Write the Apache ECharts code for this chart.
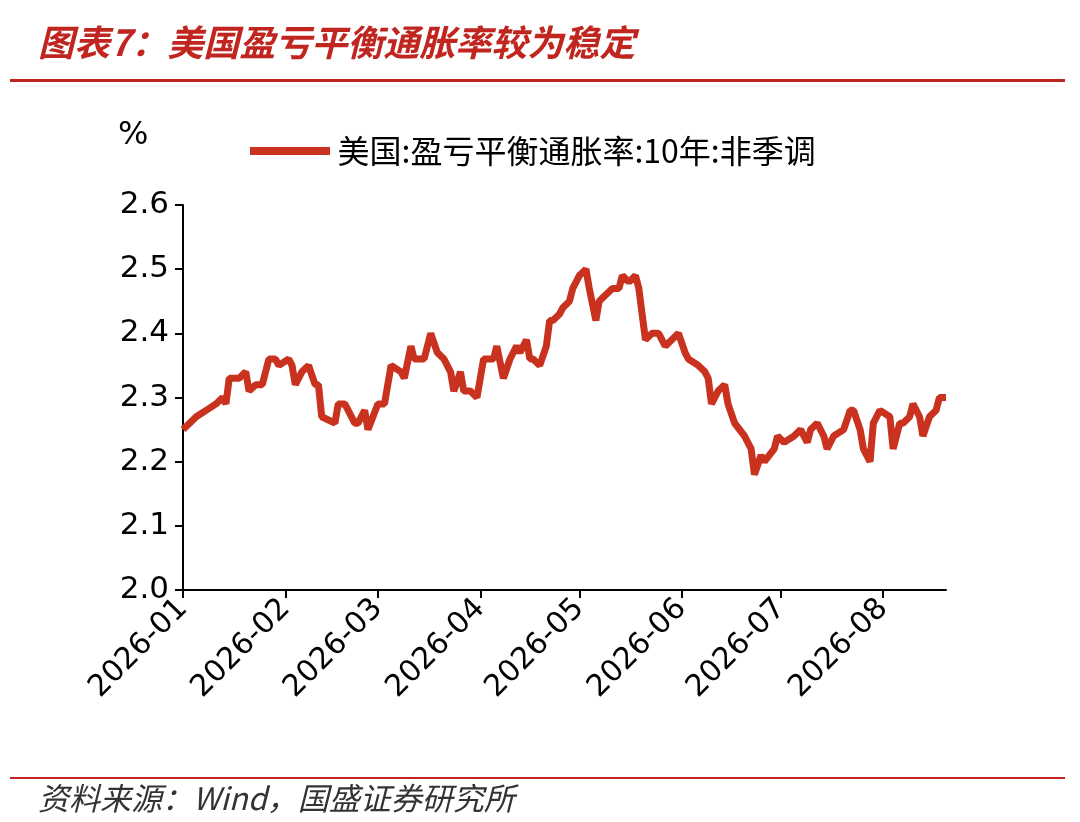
<!DOCTYPE html>
<html><head><meta charset="utf-8">
<script src="https://cdn.jsdelivr.net/npm/echarts@6/dist/echarts.min.js"></script>
<style>html,body{margin:0;background:#fff}#c{width:1080px;height:822px}</style>
</head><body><div id="c"></div>
<script>
var seriesName = '美国:盈亏平衡通胀率:10年:非季调';
var dayOffsets = [0,2,4,7,10,12,13,14,17,19,20,22,24,26,28,29,32,33,34,36,38,40,41,42,46,47,49,52,53,55,56,59,61,63,66,67,69,70,73,75,77,79,81,82,84,85,87,89,91,94,95,97,99,101,102,104,105,106,108,110,111,112,114,115,117,118,120,122,123,125,126,128,130,132,133,135,137,138,140,142,144,146,148,150,152,153,156,158,159,160,162,164,165,167,170,172,173,175,176,179,180,182,185,187,189,190,192,194,195,197,200,202,203,205,206,208,209,211,214,215,217,218,220,221,223,224,226,228,229,231];
var values = [2.25,2.26,2.27,2.28,2.29,2.30,2.29,2.33,2.33,2.34,2.31,2.32,2.32,2.36,2.36,2.35,2.36,2.35,2.32,2.34,2.35,2.32,2.32,2.27,2.26,2.29,2.29,2.26,2.26,2.28,2.25,2.29,2.29,2.35,2.34,2.33,2.38,2.36,2.36,2.40,2.37,2.36,2.34,2.31,2.34,2.31,2.31,2.30,2.36,2.36,2.38,2.33,2.36,2.38,2.37,2.39,2.36,2.36,2.35,2.38,2.42,2.42,2.43,2.44,2.45,2.47,2.49,2.50,2.47,2.42,2.45,2.46,2.47,2.47,2.49,2.48,2.49,2.47,2.39,2.40,2.40,2.38,2.39,2.40,2.37,2.36,2.35,2.34,2.33,2.29,2.31,2.32,2.29,2.26,2.24,2.22,2.18,2.21,2.20,2.22,2.24,2.23,2.24,2.25,2.23,2.25,2.26,2.24,2.22,2.24,2.25,2.28,2.28,2.25,2.22,2.20,2.26,2.28,2.27,2.22,2.26,2.26,2.27,2.29,2.27,2.24,2.27,2.28,2.30,2.30];
var yTicks = [2.0,2.1,2.2,2.3,2.4,2.5,2.6];
var startMs = Date.UTC(2026,0,1);
var data = dayOffsets.map(function(d,i){return [startMs + d*86400000, values[i]];});
var red = '#c8321e';
var chart = echarts.init(document.getElementById('c'));
chart.setOption({
  animation:false,
  textStyle:{fontFamily:'DejaVu Sans'},
  grid:{left:183,right:134,top:205,bottom:232},
  legend:{data:[seriesName],left:245,top:130,itemWidth:85,itemHeight:8,itemGap:8,
    textStyle:{fontSize:32,color:'#000',fontFamily:'Noto Sans CJK SC'},
    icon:'path://M0,0 L10,0 L10,1 L0,1 Z'},
  xAxis:{type:'time',min:startMs,max:data[data.length-1][0],splitNumber:8,
    axisLine:{lineStyle:{color:'#000',width:2}},
    axisTick:{show:true,length:8,lineStyle:{color:'#000',width:2}},
    splitLine:{show:false},
    axisLabel:{rotate:45,fontSize:30,color:'#000',margin:14,formatter:function(v){var d=new Date(v);return d.getUTCFullYear()+'-'+String(d.getUTCMonth()+1).padStart(2,'0');},hideOverlap:false,showMaxLabel:false}},
  yAxis:{type:'value',min:yTicks[0],max:yTicks[yTicks.length-1],interval:0.1,
    axisLine:{show:true,lineStyle:{color:'#000',width:2}},
    axisTick:{show:true,inside:false,length:8,lineStyle:{color:'#000',width:2}},
    splitLine:{show:false},
    axisLabel:{fontSize:31,color:'#000',margin:14,formatter:function(v){return v.toFixed(1);}}},
  series:[{name:seriesName,type:'line',data:data,showSymbol:false,
    lineStyle:{color:red,width:7},itemStyle:{color:red}}],
  graphic:[
    {type:'text',left:38,top:24,style:{text:'图表7：美国盈亏平衡通胀率较为稳定',fill:'#c0261f',font:'italic bold 36px "Noto Sans CJK SC"'}},
    {type:'rect',shape:{x:10,y:79,width:1055,height:3},style:{fill:'#c0261f'}},
    {type:'text',left:118,top:120,style:{text:'%',fill:'#000',font:'32px "DejaVu Sans"'}},
    {type:'rect',shape:{x:10,y:777,width:1055,height:2},style:{fill:'#c0261f'}},
    {type:'text',left:38,top:783,style:{text:'资料来源：Wind，国盛证券研究所',fill:'#333',font:'italic 31px "Noto Sans CJK SC"'}}
  ]
});
</script></body></html>
